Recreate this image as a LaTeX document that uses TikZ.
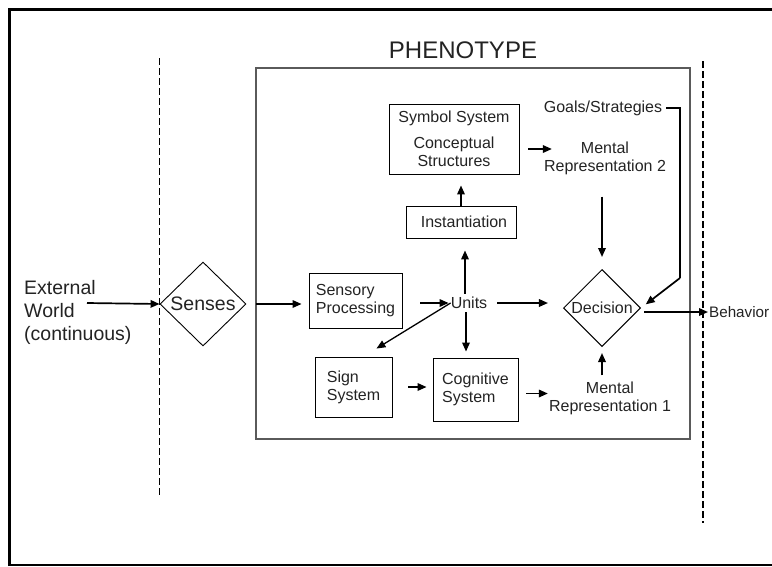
\documentclass[tikz,border=0pt]{standalone}
\usepackage{fontspec}
\setmainfont{Liberation Sans}
\usetikzlibrary{arrows.meta, calc, positioning, shapes.geometric}
\definecolor{inkcol}{RGB}{35, 35, 35}
\definecolor{framecol}{RGB}{90, 90, 90}
\tikzset{
  box/.style    = {draw, line width=0.9pt, align=left, inner sep=0pt,
                   text=inkcol, font=\fontsize{16}{18}\selectfont},
  dec/.style    = {draw, diamond, aspect=1, inner sep=0pt, line width=0.9pt,
                   text=inkcol},
  txt/.style    = {align=center, inner sep=1pt, text=inkcol,
                   font=\fontsize{16}{18}\selectfont},
  big/.style    = {font=\fontsize{19.5}{23}\selectfont},
  flow/.style   = {-{Triangle[length=9pt, width=7.5pt]}, line width=1.7pt},
  border/.style = {draw=framecol, line width=1.3pt},
  divide/.style = {dash pattern=on 7pt off 3pt},
}

\begin{document}
\begin{tikzpicture}[x=1pt, y=-1pt]
  \useasboundingbox (0,0) rectangle (772,566);

  %% frame and the two boundaries
  \draw[line width=3pt] (9,566) -- (9,9) -- (780,9);
  \draw[line width=1.2pt] (9,565) -- (780,565);
  \draw[divide, line width=1pt] (159,58) -- (159,497);
  \draw[divide, line width=2pt] (703,61) -- (703,523);

  %% the phenotype
  \node[border, minimum width=434pt, minimum height=371pt] (phen)
       at (473,253.5) {};
  \node[txt, anchor=base, font=\fontsize{24}{28}\selectfont] (title)
       at (463,58) {PHENOTYPE};

  %% outside
  \node[txt, big, align=left, anchor=west] (world) at (23,312)
       {External\\World\\(continuous)};
  \coordinate (wstart) at (87,303);
  \node[dec, big, minimum width=86pt, minimum height=84pt] (senses)
       at (203,304) {Senses};
  \node[txt, anchor=west, inner sep=0pt, font=\fontsize{15.2}{18}\selectfont]
       (behav) at (709,312) {Behavior};

  %% inside
  \node[box, minimum width=93pt, minimum height=55pt] (sensory)
       at (355.5,300.5) {Sensory\\Processing};
  \node[txt, inner sep=0pt] (units) at (469,303) {Units};
  \node[box, minimum width=77pt, minimum height=60pt] (sign)
       at (353.5,387) {Sign\\System};
  \node[box, minimum width=85pt, minimum height=63pt] (cog)
       at (475.5,389.5) {Cognitive\\System};
  \node[box, align=center, minimum width=110pt, minimum height=32pt] (inst)
       at (461,222) {\hspace{6pt}Instantiation};
  \node[box, align=center, minimum width=130pt, minimum height=70pt] (symb)
       at (454,139) {Symbol System\\[8pt]Conceptual\\Structures};
  \node[txt] (rep2) at (605,158) {Mental\\Representation 2};
  \node[txt] (goals) at (603,108) {Goals/Strategies};
  \node[txt] (rep1) at (610,398) {Mental\\Representation 1};
  \node[dec, txt, minimum width=74pt, minimum height=73pt] (decis)
       at (602,308) {Decision};
  \coordinate (gturn) at (680,278);

  %% connectors
  \draw[flow] (wstart) -- (senses.west);
  \draw[flow, shorten <=10pt, shorten >=7pt] (senses.east) -- (senses.east -| sensory.west);
  \draw[flow, shorten <=18pt, shorten >=2pt] (sensory.east |- units) -- (units.west);
  \draw[flow, line width=1.3pt] (units.west) -- ($(sign.north east)+(-16,-8)$);
  \draw[flow, shorten <=10pt, shorten >=15pt] (units.east) -- (units.east -| decis.west);
  \draw[flow, shorten <=3pt, shorten >=12pt] ([xshift=-4pt]units.north) -- ([xshift=-4pt]units.north |- inst.south);
  \draw[flow, shorten <=3pt, shorten >=6pt] ([xshift=-3pt]units.south) -- ([xshift=-3pt]units.south |- cog.north);
  \draw[flow, shorten >=11pt] (inst.north) -- (inst.north |- symb.south);
  \draw[flow, shorten <=9pt, shorten >=-9pt] ([yshift=-10pt]symb.east) -- ([yshift=-10pt]symb.east -| rep2.west);
  \draw[line width=1.7pt] ([xshift=3pt]goals.east) -| (gturn);
  \draw[flow, shorten >=6pt] (gturn) -- (decis.east);
  \draw[flow, shorten <=21pt, shorten >=12pt] (rep2.south -| decis.north) -- (decis.north);
  \draw[flow, shorten <=3pt, shorten >=1pt] ([yshift=-4pt]decis.east) -- (behav.west);
  \draw[flow, shorten <=16pt, shorten >=6pt] (sign.east) -- (sign.east -| cog.west);
  \draw[flow, shorten <=8pt] ([yshift=-4pt]cog.east) -- ([yshift=-4pt]cog.east -| rep1.west);
  \draw[flow, shorten <=5pt, shorten >=6pt] (rep1.north -| decis.south) -- (decis.south);

\end{tikzpicture}
\end{document}
